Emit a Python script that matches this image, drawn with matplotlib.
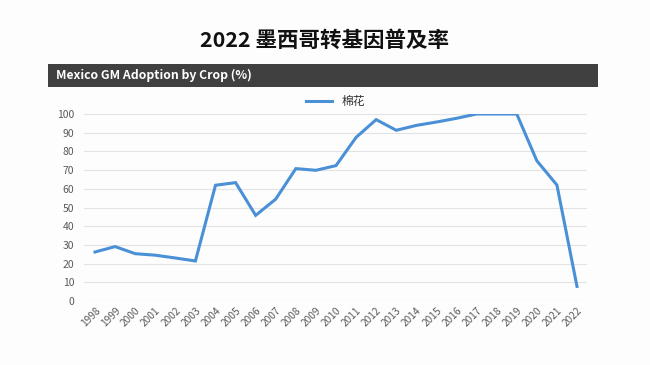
import matplotlib
matplotlib.use("Agg")
import matplotlib.pyplot as plt
from matplotlib.patches import Rectangle

plt.rcParams['font.family'] = ['Noto Sans CJK SC', 'DejaVu Sans']

years = [str(y) for y in range(1998, 2023)]
cotton = [26.2, 29.1, 25.3, 24.5, 23.0, 21.4, 61.9, 63.3, 45.8, 54.5, 70.8, 69.9, 72.4,
          87.5, 97.0, 91.3, 93.9, 95.7, 97.7, 100, 100, 100, 75.0, 62.0, 7.8]
title = "2022 墨西哥转基因普及率"
subtitle = "Mexico GM Adoption by Crop (%)"
series_name = "棉花"
yticks = list(range(0, 101, 10))

W, H = 650, 365
fig = plt.figure(figsize=(W/100, H/100), dpi=100, facecolor='#fdfdfd')

fig.text(0.5, 1 - 40/H, title, ha='center', va='center', fontsize=15.5, fontweight='bold', color='#111111')

# dark header bar
bar = Rectangle((48/W, 1 - 87/H), (598-48)/W, 23/H, transform=fig.transFigure,
                facecolor='#404040', edgecolor='none')
fig.patches.append(bar)
fig.text(56/W, 1 - 75.5/H, subtitle, ha='left', va='center', fontsize=8.8,
         fontweight='bold', color='white')

left, right = 84, 587
x0px, x1px = 95, 577
n = len(years)
per = (x1px - x0px) / (n - 1)
xmin = -(x0px - left) / per
xmax = (n - 1) + (right - x1px) / per
ax_bottom, ax_top = 301, 114
ax = fig.add_axes([left/W, 1 - ax_bottom/H, (right-left)/W, (ax_bottom-ax_top)/H])
ax.set_facecolor('none')
ax.plot(range(n), cotton, color='#4a90d6', lw=2.2, label=series_name, solid_joinstyle='miter')
ax.set_xlim(xmin, xmax)
ax.set_ylim(0, 100)
ax.set_yticks(yticks)
ax.set_xticks(range(n))
ax.set_xticklabels(years, rotation=45, ha='right', rotation_mode='anchor', fontsize=7.3, color='#595959')
ax.tick_params(axis='y', labelsize=7.5, labelcolor='#595959', length=0, pad=7)
ax.tick_params(axis='x', length=0, pad=3)
ax.grid(axis='y', color='#e3e3e3', lw=0.8)
ax.set_axisbelow(True)
for s in ax.spines.values():
    s.set_visible(False)
ax.axhline(0, color='#d9d9d9', lw=0.8, zorder=0)

leg = ax.legend(loc='lower center', bbox_to_anchor=(0.5, 1.0), frameon=False, fontsize=8.5,
                handlelength=2.2, borderaxespad=0.1)
for t in leg.get_texts():
    t.set_color('#333333')

fig.savefig('out.png', dpi=100, facecolor=fig.get_facecolor())
